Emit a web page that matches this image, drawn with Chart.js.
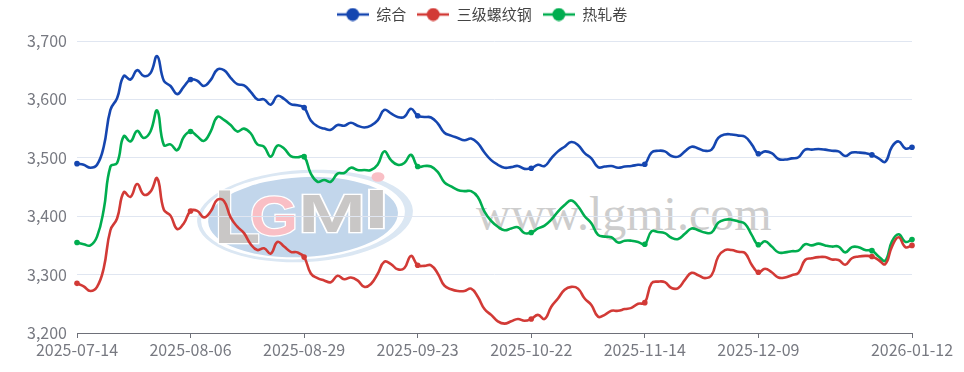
<!DOCTYPE html>
<html><head><meta charset="utf-8">
<script src="https://cdn.jsdelivr.net/npm/chart.js@4/dist/chart.umd.min.js"></script>
<style>
html,body{margin:0;padding:0;background:#fff;overflow:hidden}
#wrap{position:relative;width:964px;height:372px}
#wm,#c{position:absolute;left:0;top:0}
</style></head><body>
<div id="wrap">
<svg id="wm" width="964" height="372" xmlns="http://www.w3.org/2000/svg">
  <g transform="rotate(-3 305 216)">
    <ellipse cx="305" cy="216" rx="108" ry="46" fill="#dbe7f3"/>
    <ellipse cx="303" cy="216" rx="102" ry="43" fill="#ffffff"/>
    <ellipse cx="303" cy="217" rx="95" ry="40" fill="#c2d6eb"/>
  </g>
  <g font-family="Liberation Sans" font-weight="700" stroke="#fff" stroke-width="2.4" paint-order="stroke">
    <text x="214" y="243" font-size="76" fill="#c9c7c6">L</text>
    <text x="250" y="235" font-size="56" fill="#f9bfc5" textLength="48" lengthAdjust="spacingAndGlyphs">G</text>
    <text x="298" y="232" font-size="54" fill="#c9c7c6" textLength="68" lengthAdjust="spacingAndGlyphs">M</text>
    <text transform="translate(364 228) scale(1.6 1)" x="0" y="0" font-size="56" fill="#c9c7c6">I</text>
  </g>
  <ellipse cx="378" cy="177" rx="6.5" ry="4.8" fill="#f9bfc5"/>
  <text x="476" y="230" font-family="Liberation Serif" font-size="48" fill="#cdcdcd">www.lgmi.com</text>
</svg>
<canvas id="c" width="964" height="372"></canvas>
</div>
<script>
const categories = [
"2025-07-14","2025-07-15","2025-07-16","2025-07-17","2025-07-18","2025-07-21","2025-07-22","2025-07-23","2025-07-24","2025-07-25",
"2025-07-28","2025-07-29","2025-07-30","2025-07-31","2025-08-01","2025-08-04","2025-08-05","2025-08-06","2025-08-07","2025-08-08",
"2025-08-11","2025-08-12","2025-08-13","2025-08-14","2025-08-15","2025-08-18","2025-08-19","2025-08-20","2025-08-21","2025-08-22",
"2025-08-25","2025-08-26","2025-08-27","2025-08-28","2025-08-29","2025-09-01","2025-09-02","2025-09-03","2025-09-04","2025-09-05",
"2025-09-08","2025-09-09","2025-09-10","2025-09-11","2025-09-12","2025-09-15","2025-09-16","2025-09-17","2025-09-18","2025-09-19",
"2025-09-22","2025-09-23","2025-09-24","2025-09-25","2025-09-26","2025-09-28","2025-09-29","2025-09-30","2025-10-09","2025-10-10",
"2025-10-11","2025-10-13","2025-10-14","2025-10-15","2025-10-16","2025-10-17","2025-10-20","2025-10-21","2025-10-22","2025-10-23",
"2025-10-24","2025-10-27","2025-10-28","2025-10-29","2025-10-30","2025-10-31","2025-11-03","2025-11-04","2025-11-05","2025-11-06",
"2025-11-07","2025-11-10","2025-11-11","2025-11-12","2025-11-13","2025-11-14","2025-11-17","2025-11-18","2025-11-19","2025-11-20",
"2025-11-21","2025-11-24","2025-11-25","2025-11-26","2025-11-27","2025-11-28","2025-12-01","2025-12-02","2025-12-03","2025-12-04",
"2025-12-05","2025-12-08","2025-12-09","2025-12-10","2025-12-11","2025-12-12","2025-12-15","2025-12-16","2025-12-17","2025-12-18",
"2025-12-19","2025-12-22","2025-12-23","2025-12-24","2025-12-25","2025-12-26","2025-12-29","2025-12-30","2025-12-31","2026-01-04",
"2026-01-05","2026-01-06","2026-01-07","2026-01-08","2026-01-09","2026-01-12"];
const tickLabels = ["2025-07-14","2025-08-06","2025-08-29","2025-09-23","2025-10-22","2025-11-14","2025-12-09","2026-01-12"];
const symbolDates = ["2025-07-14","2025-08-06","2025-08-29","2025-09-23","2025-10-22","2025-11-14","2025-12-09","2026-01-04","2026-01-12"];
const yTicks = [3200,3300,3400,3500,3600,3700];
const seriesNames = ["综合","三级螺纹钢","热轧卷"];
const composite = [3490,3488,3483,3488,3519,3582,3602,3640,3634,3650,3640,3645,3674,3632,3623,3609,3622,3634,3632,3623,3633,3651,3650,3637,3626,3624,3613,3600,3600,3591,3606,3601,3592,3590,3586,3564,3554,
3550,3548,3556,3555,3560,3555,3552,3555,3564,3582,3576,3570,3570,3584,3572,3570,3569,3559,3543,3538,3534,3530,3533,3525,3509,3496,3488,3483,3484,3486,3481,3482,3488,3486,3499,3511,3519,3527,3522,3508,3499,3484,3485,3486,3483,3485,3486,3488,
3489,3509,3512,3511,3503,3502,3511,3519,3516,3512,3514,3534,3540,3540,3538,3536,3523,3507,3511,3508,3498,3497,3499,3501,3514,3514,3515,3514,3512,3511,3503,3509,3509,3508,3505,3499,3493,3519,3528,3516,3518];
const rebar = [3285,3280,3272,3279,3311,3376,3396,3441,3433,3455,3437,3442,3465,3411,3401,3378,3388,3409,3409,3398,3408,3428,3426,3398,3382,3371,3352,3342,3345,3336,3356,3348,3339,3338,3330,3302,3294,
3290,3287,3298,3292,3295,3290,3279,3284,3301,3322,3318,3309,3311,3332,3316,3315,3316,3302,3281,3275,3272,3272,3276,3262,3241,3231,3220,3216,3220,3224,3221,3224,3231,3224,3245,3259,3274,3279,3276,3259,3248,3228,3231,3238,3238,3241,3243,3250,
3252,3285,3288,3287,3277,3277,3291,3303,3299,3294,3299,3331,3342,3342,3339,3337,3317,3304,3310,3304,3295,3295,3299,3303,3325,3328,3330,3330,3326,3325,3317,3328,3331,3332,3331,3325,3318,3348,3364,3347,3350];
const hotRolled = [3355,3352,3350,3365,3411,3485,3491,3537,3528,3546,3534,3545,3581,3522,3523,3513,3536,3545,3537,3529,3545,3570,3565,3556,3545,3550,3542,3523,3519,3502,3521,3516,3503,3501,3502,3473,3459,
3462,3459,3473,3474,3483,3479,3479,3479,3488,3511,3496,3488,3491,3505,3485,3486,3485,3476,3458,3451,3445,3443,3443,3433,3408,3392,3382,3376,3379,3381,3371,3372,3379,3384,3394,3408,3419,3427,3417,3400,3388,3368,3365,3364,3355,3358,3358,3356,
3352,3374,3373,3371,3363,3361,3370,3379,3376,3372,3372,3389,3394,3394,3391,3387,3368,3351,3357,3348,3338,3338,3340,3341,3352,3350,3353,3350,3348,3348,3338,3347,3347,3342,3341,3331,3324,3357,3369,3356,3360];
const colors = ["#1546b0","#d23a36","#00ad4f"];
const seriesValues = [composite, rebar, hotRolled];
const FONT = '"Noto Sans CJK SC","Noto Sans",sans-serif';

function legendGlyph(color){
  const cv = document.createElement('canvas'); cv.width = 32; cv.height = 14;
  const g = cv.getContext('2d');
  g.strokeStyle = color; g.lineWidth = 2.5;
  g.beginPath(); g.moveTo(0,7); g.lineTo(32,7); g.stroke();
  g.fillStyle = color; g.beginPath(); g.arc(16,7,6.5,0,Math.PI*2); g.fill();
  return cv;
}
const glyphs = colors.map(legendGlyph);

new Chart(document.getElementById('c'), {
  type: 'line',
  data: {
    labels: categories,
    datasets: seriesNames.map((name,k)=>({
      label: name,
      data: seriesValues[k],
      borderColor: colors[k],
      backgroundColor: colors[k],
      borderWidth: 2.6,
      tension: 0.45,
      yAxisID: 'y',
      pointRadius: ctx => symbolDates.includes(categories[ctx.dataIndex]) ? 2.8 : 0,
      pointBorderWidth: 0,
      fill: false
    }))
  },
  options: {
    responsive: false,
    animation: false,
    devicePixelRatio: 1,
    layout: { padding: { top: -4, right: 0, left: 0, bottom: 0 } },
    plugins: {
      tooltip: { enabled: false },
      legend: {
        position: 'top',
        labels: {
          color: '#444',
          font: { family: FONT, size: 15 },
          usePointStyle: true,
          pointStyleWidth: 32,
          boxHeight: 14,
          padding: 11,
          generateLabels: chart => chart.data.datasets.map((d,i)=>({
            text: d.label, datasetIndex: i, pointStyle: glyphs[i],
            fontColor: '#444', strokeStyle: d.borderColor, fillStyle: d.borderColor, lineWidth: 0, hidden: false
          }))
        }
      }
    },
    scales: {
      x: {
        type: 'category',
        offset: false,
        afterBuildTicks: s => { s.ticks = s.ticks.filter(t => tickLabels.includes(categories[t.value])); },
        afterFit: s => { s.height = 39; },
        border: { color: '#6E7079', width: 1 },
        grid: { drawOnChartArea: false, drawTicks: true, tickLength: 5, tickColor: '#6E7079', tickWidth: 1 },
        ticks: {
          autoSkip: false, maxRotation: 0, minRotation: 0, padding: 2,
          color: '#777981', font: { family: FONT, size: 16 },
          callback: function(v){ return categories[v]; }
        }
      },
      y: {
        min: 3200, max: 3700,
        afterBuildTicks: s => { s.ticks = yTicks.map(v => ({value: v})); },
        afterFit: s => { s.width = 77; },
        border: { display: false },
        grid: { color: '#E0E6F1', drawTicks: false, lineWidth: 1 },
        ticks: {
          padding: 10, color: '#777981', font: { family: FONT, size: 16 },
          callback: v => v.toLocaleString('en-US')
        }
      },
      rightGutter: {
        type: 'linear',
        position: 'right',
        afterFit: s => { s.width = 52; },
        border: { display: false },
        grid: { display: false, drawTicks: false },
        ticks: { display: false }
      }
    }
  },
  plugins: [{
    id: 'legendHeight',
    beforeLayout(chart){
      const l = chart.legend;
      if (l && !l._wrapped){
        const f = l.fit;
        l.fit = function(){ f.call(this); this.height = 45; };
        l._wrapped = true;
      }
    }
  }]
});
</script>
</body></html>
